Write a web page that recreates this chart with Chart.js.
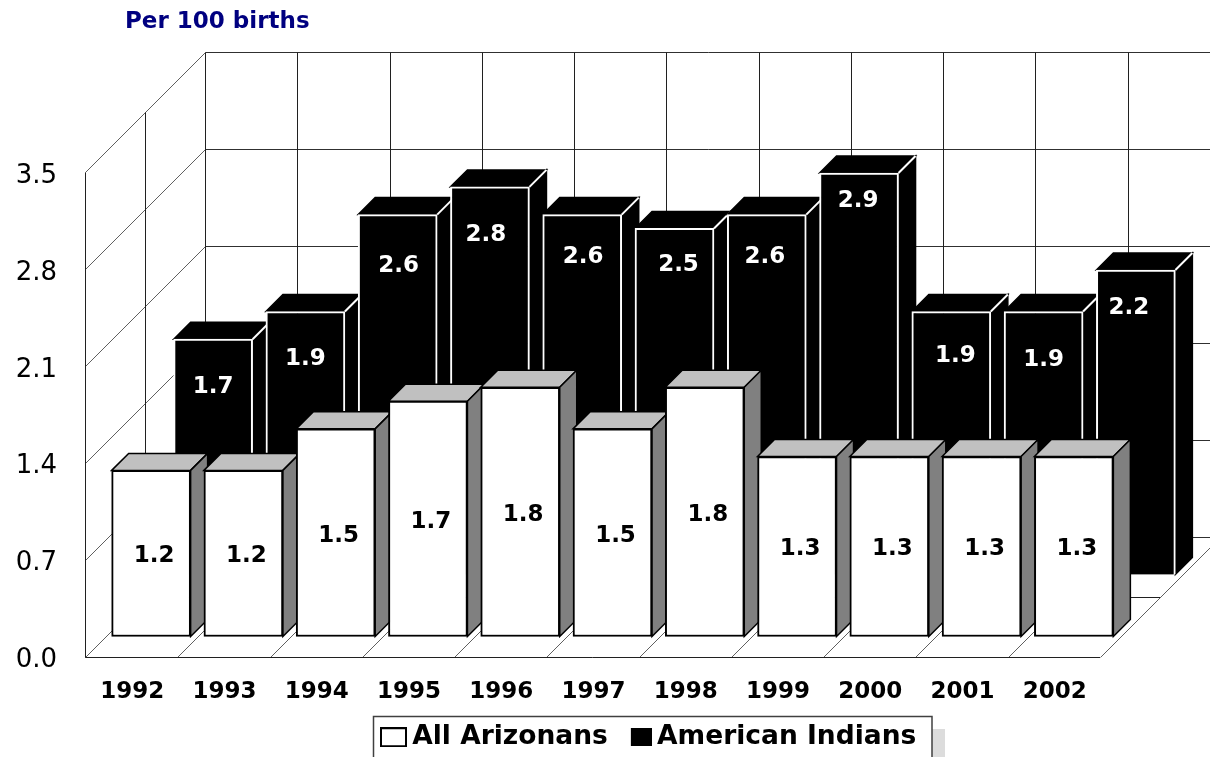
<!DOCTYPE html>
<html>
<head>
<meta charset="utf-8">
<title>Per 100 births</title>
<style>
    html, body { margin: 0; padding: 0; background: #fff; overflow: hidden; }
    canvas { display: block; }
</style>
<script src="https://cdn.jsdelivr.net/npm/chart.js@4/dist/chart.umd.min.js"></script>
</head>
<body>
<canvas id="chart" width="1210" height="757"></canvas>
<script>
const years = ['1992', '1993', '1994', '1995', '1996', '1997', '1998', '1999', '2000', '2001', '2002'];
const allArizonans = [1.2, 1.2, 1.5, 1.7, 1.8, 1.5, 1.8, 1.3, 1.3, 1.3, 1.3];
const americanIndians = [1.7, 1.9, 2.6, 2.8, 2.6, 2.5, 2.6, 2.9, 1.9, 1.9, 2.2];
const yTicks = [0, 0.7, 1.4, 2.1, 2.8, 3.5];

const FONT = '"DejaVu Sans", Verdana, sans-serif';
const WALL_DEPTH = 120;
const BAR_DEPTH = 17;
// where each series stands on the floor, relative to the front plane
const SERIES_SHIFT = [20, 82];

// the black series labels sit by hand in the original: [dx from centre, dy from top]
const indianLabelNudge = [[0, 45], [0, 45], [1, 48], [-4, 45], [1, 39], [4, 34], [-2, 39], [-1, 25], [4, 42], [0, 46], [-7, 35]];

function line(ctx, x1, y1, x2, y2) {
    ctx.beginPath();
    ctx.moveTo(x1, y1);
    ctx.lineTo(x2, y2);
    ctx.stroke();
}

// Legend swatch as a small canvas, right aligned so that it stays close to the text
function swatch(fill, w, h) {
    const c = document.createElement('canvas');
    c.width = 34;
    c.height = h;
    const g = c.getContext('2d');
    g.fillStyle = fill;
    g.strokeStyle = '#000';
    g.lineWidth = 2;
    g.fillRect(c.width - w + 1, 1, w - 2, h - 2);
    g.strokeRect(c.width - w + 1, 1, w - 2, h - 2);
    return c;
}

const walls3d = {
    id: 'walls3d',
    afterLayout(chart) {
        // move title and legend to where the original has them
        chart.titleBlock.left = 125;
        chart.legend.left = 363;
        chart.legend.top = 706;
    },
    beforeDraw(chart) {
        const ctx = chart.ctx;
        ctx.save();
        ctx.fillStyle = '#dcdcdc';
        ctx.fillRect(932, 729, 13, 28);
        ctx.fillStyle = '#fff';
        ctx.fillRect(373, 716, 559, 41);
        ctx.strokeStyle = '#404040';
        ctx.lineWidth = 1.5;
        ctx.beginPath();
        ctx.moveTo(373.5, 757);
        ctx.lineTo(373.5, 716.5);
        ctx.lineTo(932, 716.5);
        ctx.lineTo(932, 757);
        ctx.stroke();
        ctx.restore();
    },
    beforeDatasetsDraw(chart) {
        const ctx = chart.ctx;
        const { x, y } = chart.scales;
        const d = WALL_DEPTH;
        const step = x.width / years.length;
        const bottom = Math.round(y.getPixelForValue(0)) + 0.5;
        const top = Math.round(y.getPixelForValue(yTicks[yTicks.length - 1])) + 0.5;
        const left = Math.round(x.left) + 0.5;
        ctx.save();
        ctx.lineWidth = 1;

        // diagonals on the side wall and horizontals on the back wall
        yTicks.forEach(v => {
            const py = Math.round(y.getPixelForValue(v)) + 0.5;
            ctx.strokeStyle = '#606060';
            line(ctx, left, py, left + d, py - d);
            ctx.strokeStyle = '#303030';
            line(ctx, left + d, py - d, x.right + d, py - d);
        });

        // floor diagonals and back wall verticals
        for (let i = 0; i <= years.length; i++) {
            const px = Math.round(x.left + i * step) + 0.5;
            ctx.strokeStyle = '#606060';
            line(ctx, px, bottom, px + d, bottom - d);
            ctx.strokeStyle = '#202020';
            line(ctx, px + d, top - d, px + d, bottom - d);
        }

        // front edge, side wall verticals and the floor middle line
        ctx.strokeStyle = '#202020';
        line(ctx, left, bottom, x.right, bottom);
        line(ctx, left, top, left, bottom);
        line(ctx, left + d / 2, top - d / 2, left + d / 2, bottom - d / 2);
        line(ctx, left + d / 2, bottom - d / 2, x.right + d / 2, bottom - d / 2);
        ctx.restore();
    },
    beforeDatasetDraw(chart, args) {
        const ctx = chart.ctx;
        const shift = SERIES_SHIFT[args.index];
        const dark = args.index === 1;
        const depth = BAR_DEPTH;
        ctx.save();
        ctx.translate(shift, -shift);
        // sides first, the fronts from Chart.js then lie over the neighbours
        args.meta.data.forEach(bar => {
            const p = bar.getProps(['x', 'y', 'base', 'width'], true);
            const l = p.x - p.width / 2;
            const r = p.x + p.width / 2;
            ctx.lineWidth = 1.5;
            ctx.strokeStyle = '#000';
            ctx.fillStyle = dark ? '#000' : '#c0c0c0';
            ctx.beginPath();
            ctx.moveTo(l, p.y);
            ctx.lineTo(l + depth, p.y - depth);
            ctx.lineTo(r + depth, p.y - depth);
            ctx.lineTo(r, p.y);
            ctx.closePath();
            ctx.fill();
            ctx.stroke();
            ctx.fillStyle = dark ? '#000' : '#808080';
            ctx.beginPath();
            ctx.moveTo(r, p.y);
            ctx.lineTo(r + depth, p.y - depth);
            ctx.lineTo(r + depth, p.base - depth);
            ctx.lineTo(r, p.base);
            ctx.closePath();
            ctx.fill();
            ctx.stroke();
            if (dark) {
                ctx.strokeStyle = '#fff';
                ctx.lineWidth = 2;
                line(ctx, r, p.y, r + depth, p.y - depth);
            }
        });
    },
    afterDatasetDraw(chart) {
        chart.ctx.restore();
    },
    afterDatasetsDraw(chart) {
        const ctx = chart.ctx;
        ctx.save();
        ctx.font = 'bold 23px ' + FONT;
        ctx.textAlign = 'center';
        ctx.textBaseline = 'middle';

        const indians = chart.getDatasetMeta(1).data;
        const arizonans = chart.getDatasetMeta(0).data;
        ctx.fillStyle = '#fff';
        indians.forEach((bar, i) => {
            const nudge = indianLabelNudge[i];
            ctx.fillText(americanIndians[i].toFixed(1),
                bar.x + SERIES_SHIFT[1] + nudge[0], bar.y - SERIES_SHIFT[1] + nudge[1] + 3);
        });
        ctx.fillStyle = '#000';
        arizonans.forEach((bar, i) => {
            ctx.fillText(allArizonans[i].toFixed(1),
                bar.x + SERIES_SHIFT[0] + 3, (bar.y + bar.base) / 2 - SERIES_SHIFT[0] + 3);
        });
        ctx.restore();
    }
};

new Chart(document.getElementById('chart'), {
    type: 'bar',
    plugins: [walls3d],
    data: {
        labels: years,
        datasets: [
            {
                label: 'All Arizonans',
                data: allArizonans,
                backgroundColor: '#fff',
                borderColor: '#000',
                borderWidth: 2,
                borderSkipped: false,
                barThickness: 79,
                grouped: false,
                clip: false,
                pointStyle: swatch('#fff', 27, 20)
            },
            {
                label: 'American Indians',
                data: americanIndians,
                backgroundColor: '#000',
                borderColor: '#fff',
                borderWidth: 2,
                barThickness: 79,
                grouped: false,
                clip: false,
                pointStyle: swatch('#000', 21, 18)
            }
        ]
    },
    options: {
        responsive: false,
        animation: false,
        layout: { padding: { left: 0, right: 110, top: 0, bottom: 0 } },
        scales: {
            x: {
                grid: { display: false, drawTicks: false },
                border: { display: false },
                ticks: { color: '#000', font: { family: FONT, size: 23, weight: 'bold' }, padding: 22, labelOffset: 1, maxRotation: 0 },
                afterFit(scale) { scale.height = 46; }
            },
            y: {
                min: 0,
                max: 3.5,
                grid: { display: false, drawTicks: false },
                border: { display: false },
                afterBuildTicks(scale) { scale.ticks = yTicks.map(value => ({ value })); },
                ticks: {
                    color: '#000',
                    font: { family: FONT, size: 26 },
                    padding: 28,
                    labelOffset: 4,
                    callback: value => value.toFixed(1)
                },
                afterFit(scale) { scale.width = 85; }
            }
        },
        plugins: {
            tooltip: { enabled: false },
            title: {
                display: true,
                text: 'Per 100 births',
                align: 'start',
                color: '#000080',
                font: { family: FONT, size: 23, weight: 'bold', lineHeight: 1 },
                padding: { top: 11, bottom: 138 }
            },
            legend: {
                position: 'bottom',
                align: 'start',
                labels: {
                    color: '#000',
                    font: { family: FONT, size: 26.5, weight: 'bold' },
                    usePointStyle: true,
                    pointStyleWidth: 18,
                    padding: 18,
                    generateLabels(chart) {
                        return chart.data.datasets.map((ds, i) => ({
                            text: ds.label,
                            pointStyle: ds.pointStyle,
                            datasetIndex: i,
                            fontColor: '#000',
                            lineWidth: 0
                        }));
                    }
                }
            }
        }
    }
});
</script>
</body>
</html>
